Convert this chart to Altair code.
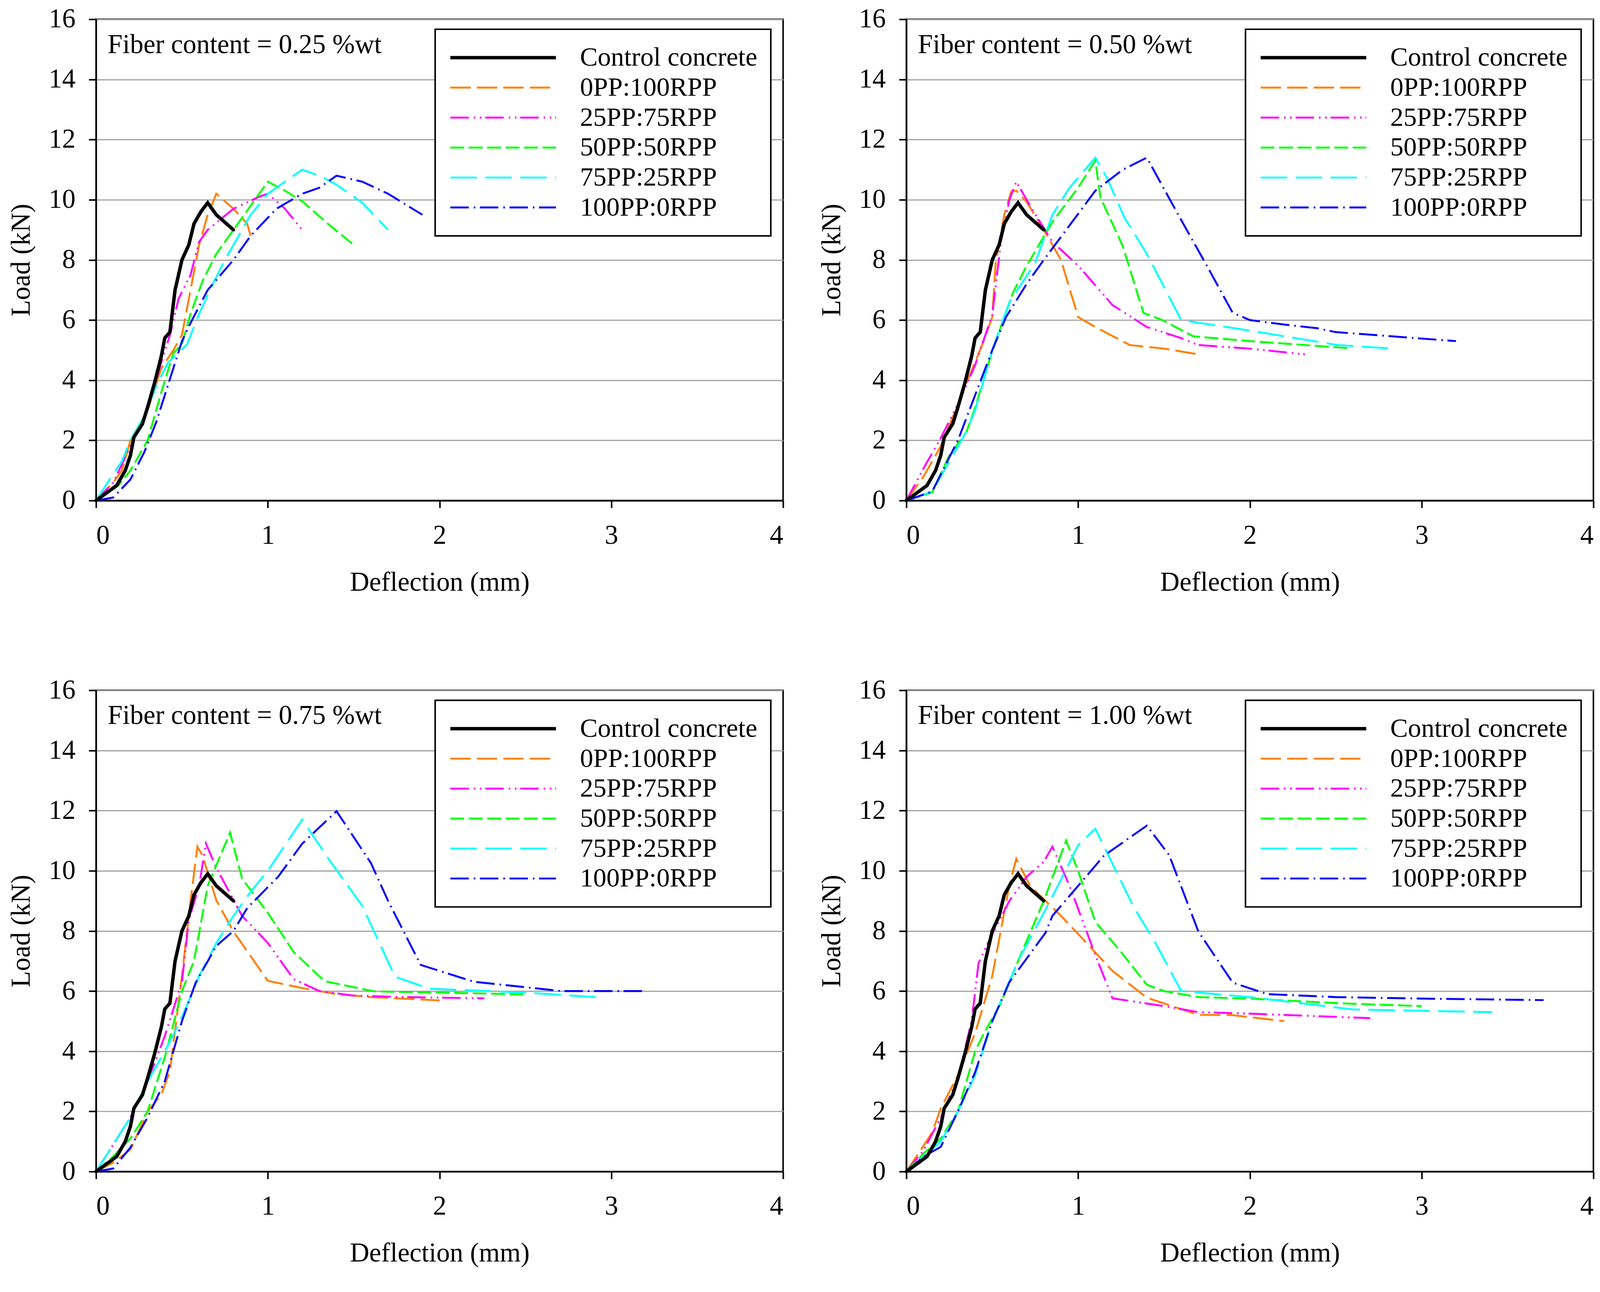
import altair as alt
import pandas as pd

NAMES = ["Control concrete", "0PP:100RPP", "25PP:75RPP", "50PP:50RPP", "75PP:25RPP", "100PP:0RPP"]
COLORS = ["#000000", "#FF8000", "#FF00FF", "#00FF00", "#00FFFF", "#0000FF"]
DASHES = [[1, 0], [53, 16], [48, 13, 4, 12, 4, 10], [36, 12], [69, 22], [48, 13, 4, 12]]
WIDTHS = [9, 5, 5, 5, 5, 5]

LABELS = ["Fiber content = 0.25 %wt", "Fiber content = 0.50 %wt",
          "Fiber content = 0.75 %wt", "Fiber content = 1.00 %wt"]
X_TICKS = [0, 1, 2, 3, 4]
Y_TICKS = [0, 2, 4, 6, 8, 10, 12, 14, 16]

# Control concrete (same curve in every panel)
CTRL_X = [0, 0.12, 0.17, 0.2, 0.22, 0.27, 0.3, 0.34, 0.38, 0.40, 0.43, 0.46, 0.50, 0.54, 0.57, 0.61, 0.65, 0.70, 0.80]
CTRL_Y = [0, 0.5, 1.0, 1.5, 2.1, 2.55, 3.1, 3.9, 4.8, 5.4, 5.6, 7.0, 8.0, 8.5, 9.2, 9.6, 9.9, 9.5, 9.0]

# ---- Fiber content = 0.25 %wt ----
P1_OR_X = [0, 0.1, 0.15, 0.2, 0.3, 0.38, 0.45, 0.5, 0.55, 0.6, 0.65, 0.7, 0.8, 0.88, 0.9]
P1_OR_Y = [0, 0.6, 1.0, 2.0, 3.0, 4.4, 5.0, 5.5, 7.0, 8.5, 9.5, 10.2, 9.7, 9.2, 8.8]
P1_MG_X = [0, 0.1, 0.2, 0.3, 0.38, 0.43, 0.48, 0.55, 0.6, 0.65, 0.8, 0.95, 1.0, 1.1, 1.2]
P1_MG_Y = [0, 0.6, 1.8, 3.0, 4.6, 5.5, 6.7, 7.5, 8.6, 9.0, 9.7, 10.1, 10.2, 9.7, 9.0]
P1_GR_X = [0, 0.13, 0.2, 0.3, 0.38, 0.45, 0.5, 0.55, 0.62, 0.7, 0.8, 0.9, 1.0, 1.1, 1.2, 1.35, 1.5]
P1_GR_Y = [0, 0.5, 1.0, 2.0, 3.6, 4.9, 5.2, 6.2, 7.3, 8.2, 9.0, 9.8, 10.6, 10.3, 9.95, 9.2, 8.5]
P1_CY_X = [0, 0.09, 0.15, 0.2, 0.28, 0.35, 0.42, 0.48, 0.53, 0.6, 0.68, 0.75, 0.83, 0.9, 1.0, 1.1, 1.2, 1.3, 1.4, 1.55, 1.7]
P1_CY_Y = [0, 0.8, 1.3, 2.0, 2.8, 3.8, 4.6, 4.9, 5.2, 6.2, 7.2, 8.0, 8.8, 9.5, 10.2, 10.6, 11.0, 10.8, 10.5, 9.9, 9.0]
P1_BL_X = [0, 0.1, 0.2, 0.28, 0.35, 0.4, 0.45, 0.5, 0.55, 0.65, 0.8, 0.9, 1.05, 1.2, 1.3, 1.4, 1.55, 1.7, 1.9]
P1_BL_Y = [0, 0.1, 0.7, 1.6, 2.6, 3.5, 4.4, 5.3, 5.9, 7.0, 8.0, 8.8, 9.7, 10.2, 10.4, 10.8, 10.6, 10.2, 9.5]

# ---- Fiber content = 0.50 %wt ----
P2_OR_X = [0, 0.1, 0.2, 0.3, 0.4, 0.45, 0.5, 0.52, 0.57, 0.61, 0.64, 0.7, 0.8, 0.9, 1.0, 1.1, 1.3, 1.5, 1.7]
P2_OR_Y = [0, 0.8, 1.8, 3.2, 4.6, 5.3, 6.1, 7.9, 9.5, 10.27, 10.3, 9.93, 9.0, 8.0, 6.1, 5.77, 5.17, 5.05, 4.86]
P2_MG_X = [0, 0.1, 0.2, 0.3, 0.4, 0.5, 0.55, 0.6, 0.64, 0.72, 0.85, 1.0, 1.2, 1.4, 1.6, 1.7, 2.0, 2.32]
P2_MG_Y = [0, 1.07, 2.08, 3.2, 4.5, 6.17, 8.6, 10.0, 10.6, 9.8, 8.6, 7.81, 6.5, 5.77, 5.4, 5.17, 5.05, 4.86]
P2_GR_X = [0, 0.15, 0.25, 0.35, 0.4, 0.5, 0.62, 0.7, 0.85, 1.0, 1.1, 1.13, 1.26, 1.38, 1.49, 1.67, 2.0, 2.59]
P2_GR_Y = [0, 0.27, 1.5, 2.28, 3.09, 4.97, 6.9, 7.8, 9.26, 10.4, 11.3, 10.07, 8.46, 6.24, 6.0, 5.46, 5.3, 5.06]
P2_CY_X = [0, 0.15, 0.25, 0.35, 0.4, 0.5, 0.6, 0.75, 0.85, 0.95, 1.1, 1.17, 1.27, 1.4, 1.6, 2.0, 2.51, 2.81]
P2_CY_Y = [0, 0.3, 1.3, 2.3, 3.0, 5.0, 6.6, 7.9, 9.5, 10.4, 11.4, 10.7, 9.4, 8.2, 6.0, 5.65, 5.17, 5.06]
P2_BL_X = [0, 0.15, 0.3, 0.5, 0.58, 0.7, 0.8, 1.0, 1.1, 1.26, 1.4, 1.58, 1.75, 1.9, 2.0, 2.2, 2.39, 2.5, 3.2]
P2_BL_Y = [0, 0.3, 2.0, 5.0, 6.1, 7.2, 8.0, 9.53, 10.3, 11.0, 11.4, 9.53, 7.8, 6.24, 6.0, 5.85, 5.73, 5.6, 5.3]

# ---- Fiber content = 0.75 %wt ----
P3_OR_X = [0, 0.1, 0.2, 0.3, 0.38, 0.43, 0.5, 0.55, 0.59, 0.62, 0.7, 0.8, 1.0, 1.2, 1.4, 1.6, 2.0]
P3_OR_Y = [0, 0.3, 0.73, 2.0, 2.56, 3.34, 6.5, 9.0, 10.8, 10.5, 9.02, 7.98, 6.34, 6.1, 5.9, 5.8, 5.69]
P3_MG_X = [0, 0.1, 0.2, 0.3, 0.4, 0.5, 0.54, 0.6, 0.64, 0.7, 0.85, 1.0, 1.15, 1.3, 1.5, 1.8, 2.26]
P3_MG_Y = [0, 0.9, 1.8, 3.0, 4.5, 6.3, 8.37, 9.5, 10.9, 10.1, 8.5, 7.6, 6.4, 6.0, 5.85, 5.8, 5.76]
P3_GR_X = [0, 0.1, 0.2, 0.3, 0.4, 0.5, 0.57, 0.65, 0.78, 0.85, 1.0, 1.15, 1.33, 1.62, 2.0, 2.5]
P3_GR_Y = [0, 0.5, 1.1, 2.0, 3.8, 6.0, 7.0, 9.5, 11.27, 9.74, 8.6, 7.3, 6.33, 5.99, 5.95, 5.89]
P3_CY_X = [0, 0.1, 0.2, 0.3, 0.4, 0.49, 0.6, 0.7, 0.8, 0.9, 1.0, 1.2, 1.36, 1.55, 1.74, 1.94, 2.5, 2.91]
P3_CY_Y = [0, 0.9, 1.8, 3.0, 4.0, 5.0, 6.5, 7.6, 8.5, 9.3, 10.0, 11.7, 10.34, 8.83, 6.48, 6.08, 5.95, 5.8]
P3_BL_X = [0, 0.1, 0.2, 0.3, 0.4, 0.5, 0.58, 0.7, 0.8, 0.88, 1.06, 1.2, 1.4, 1.6, 1.7, 1.89, 2.2, 2.71, 3.2]
P3_BL_Y = [0, 0.1, 0.8, 1.8, 3.0, 5.0, 6.28, 7.5, 8.0, 8.76, 9.8, 10.9, 11.98, 10.26, 9.0, 6.87, 6.31, 6.0, 6.0]

# ---- Fiber content = 1.00 %wt ----
P4_OR_X = [0, 0.1, 0.15, 0.2, 0.3, 0.4, 0.5, 0.6, 0.64, 0.72, 0.9, 1.0, 1.2, 1.4, 1.7, 1.9, 2.2]
P4_OR_Y = [0, 0.86, 1.3, 2.1, 3.2, 4.6, 6.5, 9.54, 10.4, 9.5, 8.5, 7.9, 6.67, 5.78, 5.21, 5.2, 5.0]
P4_MG_X = [0, 0.1, 0.2, 0.3, 0.38, 0.42, 0.5, 0.6, 0.7, 0.8, 0.85, 0.95, 1.1, 1.2, 1.5, 1.7, 2.0, 2.7]
P4_MG_Y = [0, 0.7, 1.8, 3.1, 5.0, 6.93, 7.9, 9.0, 9.8, 10.3, 10.8, 9.5, 7.2, 5.76, 5.5, 5.3, 5.25, 5.1]
P4_GR_X = [0, 0.1, 0.2, 0.3, 0.4, 0.45, 0.55, 0.65, 0.8, 0.93, 1.0, 1.1, 1.25, 1.4, 1.5, 1.7, 2.0, 2.5, 3.0]
P4_GR_Y = [0, 0.6, 1.1, 2.0, 4.0, 4.58, 5.6, 7.0, 9.0, 11.0, 10.0, 8.3, 7.3, 6.21, 6.0, 5.8, 5.75, 5.6, 5.5]
P4_CY_X = [0, 0.1, 0.2, 0.3, 0.4, 0.5, 0.65, 0.8, 0.9, 1.0, 1.1, 1.32, 1.45, 1.6, 2.0, 2.6, 3.41]
P4_CY_Y = [0, 0.5, 1.0, 2.0, 3.2, 5.0, 7.0, 8.6, 9.7, 10.85, 11.4, 8.83, 7.6, 6.0, 5.8, 5.39, 5.3]
P4_BL_X = [0, 0.1, 0.2, 0.3, 0.4, 0.5, 0.6, 0.81, 0.85, 1.0, 1.15, 1.4, 1.53, 1.7, 1.9, 2.1, 2.5, 3.0, 3.71]
P4_BL_Y = [0, 0.5, 0.82, 2.0, 3.3, 5.0, 6.3, 7.94, 8.5, 9.5, 10.5, 11.5, 10.52, 7.98, 6.28, 5.9, 5.8, 5.75, 5.7]

PANELS = [
    [(CTRL_X, CTRL_Y), (P1_OR_X, P1_OR_Y), (P1_MG_X, P1_MG_Y), (P1_GR_X, P1_GR_Y), (P1_CY_X, P1_CY_Y), (P1_BL_X, P1_BL_Y)],
    [(CTRL_X, CTRL_Y), (P2_OR_X, P2_OR_Y), (P2_MG_X, P2_MG_Y), (P2_GR_X, P2_GR_Y), (P2_CY_X, P2_CY_Y), (P2_BL_X, P2_BL_Y)],
    [(CTRL_X, CTRL_Y), (P3_OR_X, P3_OR_Y), (P3_MG_X, P3_MG_Y), (P3_GR_X, P3_GR_Y), (P3_CY_X, P3_CY_Y), (P3_BL_X, P3_BL_Y)],
    [(CTRL_X, CTRL_Y), (P4_OR_X, P4_OR_Y), (P4_MG_X, P4_MG_Y), (P4_GR_X, P4_GR_Y), (P4_CY_X, P4_CY_Y), (P4_BL_X, P4_BL_Y)],
]

FONT = "Liberation Serif"
FS = 70
PW, PH = 1789, 1253


def make_panel(series_list, label):
    rows = []
    for name, (xs, ys) in zip(NAMES, series_list):
        for i, (xv, yv) in enumerate(zip(xs, ys)):
            rows.append({"series": name, "x": xv, "y": yv, "i": i})
    df = pd.DataFrame(rows)

    leg = alt.Legend(
        title=None, orient="none", legendX=883, legendY=26,
        symbolType="stroke", symbolSize=75625, clipHeight=78,
        labelOffset=58, padding=35, rowPadding=0,
        strokeColor="black", fillColor="white",
        labelFont=FONT, labelFontSize=69, labelColor="black",
        labelLimit=1000,
    )
    enc = dict(
        x=alt.X("x:Q", scale=alt.Scale(domain=[0, 4], nice=False),
                axis=alt.Axis(values=X_TICKS, format="d", grid=False, title="Deflection (mm)")),
        y=alt.Y("y:Q", scale=alt.Scale(domain=[0, 16], nice=False),
                axis=alt.Axis(values=Y_TICKS, format="d", grid=True, title="Load (kN)")),
        color=alt.Color("series:N", scale=alt.Scale(domain=NAMES, range=COLORS), legend=leg),
        strokeDash=alt.StrokeDash("series:N", scale=alt.Scale(domain=NAMES, range=DASHES), legend=leg),
        strokeWidth=alt.StrokeWidth("series:N", scale=alt.Scale(type="ordinal", domain=NAMES, range=WIDTHS), legend=leg),
        order=alt.Order("i:Q"),
    )
    base = alt.Chart(df)
    others = base.transform_filter(alt.datum.series != NAMES[0]).mark_line().encode(**enc)
    ctrl = base.transform_filter(alt.datum.series == NAMES[0]).mark_line(strokeCap="round").encode(**enc)
    txt = alt.Chart(pd.DataFrame({"t": [label]})).mark_text(
        align="left", baseline="alphabetic", font=FONT, fontSize=FS, color="black"
    ).encode(text="t:N", x=alt.value(30), y=alt.value(88))
    return alt.layer(others, ctrl, txt).properties(width=PW, height=PH)


charts = [make_panel(s, l) for s, l in zip(PANELS, LABELS)]

chart = alt.concat(*charts, columns=2, spacing={"row": 494, "column": 321}, bounds="flush").resolve_scale(
    color="independent", strokeDash="independent", strokeWidth="independent"
).resolve_legend(
    color="independent", strokeDash="independent", strokeWidth="independent"
).properties(
    padding={"left": 11, "top": -23, "right": 5, "bottom": 5}
).configure(
    font=FONT, background="white"
).configure_view(
    stroke="black", strokeWidth=4
).configure_axis(
    domainColor="black", domainWidth=4, tickColor="black", tickWidth=4, tickSize=19,
    labelFont=FONT, labelFontSize=FS, labelColor="black", labelPadding=35,
    titleFont=FONT, titleFontSize=FS, titleColor="black", titleFontWeight="normal",
    gridColor="#A0A0A0", gridWidth=3,
).configure_axisY(
    titlePadding=34
).configure_axisX(
    titlePadding=53, labelPadding=38
).configure_legend(
    strokeWidth=4
)

chart.save("out.html", embed_options={"renderer": "svg", "actions": False})
